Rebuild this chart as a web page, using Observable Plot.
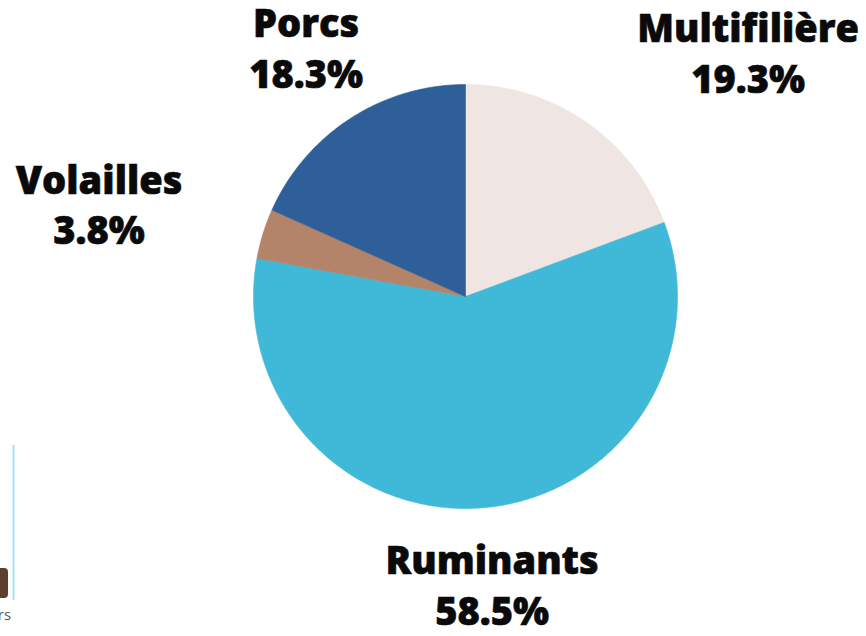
<!DOCTYPE html>
<html>
<head>
<meta charset="utf-8">
<script src="https://cdn.jsdelivr.net/npm/d3@7"></script>
<script src="https://cdn.jsdelivr.net/npm/@observablehq/plot@0.6"></script>
<style>
  html, body { margin: 0; padding: 0; background: #ffffff; }
  #chart { width: 866px; height: 636px; overflow: hidden; }
  #chart svg { display: block; }
</style>
</head>
<body>
<div id="chart"></div>
<script>
// ---- data ----
const categories = ["Multifilière", "Ruminants", "Volailles", "Porcs"];
const shares = [19.3, 58.5, 3.8, 18.3];
const sliceColors = ["#efe5e2", "#40b8d7", "#b3836a", "#2e5f99"];
// label nudges (px) relative to the point on the label ring
const labelNudge = {
  "Multifilière": [123, -15],
  "Ruminants": [2, 8],
  "Volailles": [-99, -11],
  "Porcs": [-7, -15]
};

const W = 866, H = 636;
const cx = 465, cy = 296, R = 212, labelR = 280;

const table = categories.map((c, i) => ({name: c, share: shares[i], color: sliceColors[i]}));
const arcs = d3.pie().sort(null).value(d => d.share)(table);

// polygon points for each slice, in pixel offsets from centre (y down)
function slicePoints(a) {
  const pts = [{x: 0, y: 0}];
  const n = Math.max(8, Math.ceil((a.endAngle - a.startAngle) / 0.01));
  for (let k = 0; k <= n; k++) {
    const t = a.startAngle + (a.endAngle - a.startAngle) * k / n;
    pts.push({x: R * Math.sin(t), y: -R * Math.cos(t)});
  }
  pts.push({x: 0, y: 0});
  return pts;
}

const labels = arcs.map(a => {
  const mid = (a.startAngle + a.endAngle) / 2;
  const [ndx, ndy] = labelNudge[a.data.name];
  return {
    x: labelR * Math.sin(mid) + ndx,
    y: -labelR * Math.cos(mid) + ndy,
    text: a.data.name + "\n" + a.data.share.toFixed(1) + "%"
  };
});

const plot = Plot.plot({
  width: W,
  height: H,
  margin: 0,
  x: {domain: [-cx, W - cx], range: [0, W], axis: null},
  y: {domain: [-cy, H - cy], range: [0, H], axis: null},
  style: {background: "#ffffff"},
  marks: [
    ...arcs.map(a => Plot.line(slicePoints(a), {
      x: "x", y: "y", fill: a.data.color, stroke: a.data.color, strokeWidth: 0.6, curve: "linear"
    })),
    Plot.text(labels, {
      x: "x", y: "y", text: "text",
      fontFamily: "'Open Sans', 'Noto Sans', sans-serif",
      fontWeight: 800,
      fontSize: 38,
      lineHeight: 1.34,
      fill: "#0a0a0a",
      stroke: "#0a0a0a",
      strokeWidth: 0.6,
      textAnchor: "middle"
    }),
    // cropped fragments at the lower-left edge of the source image
    Plot.ruleX([13 - cx], {y1: 445 - cy, y2: 600 - cy, stroke: "#8fdcef", strokeWidth: 2, strokeOpacity: 0.8}),
    Plot.rect([{x1: -cx - 4, x2: 8 - cx, y1: 568 - cy, y2: 598 - cy}], {x1: "x1", x2: "x2", y1: "y1", y2: "y2", fill: "#5e3e2f", rx: 4}),
    Plot.text(["rs"], {x: 4 - cx, y: 615 - cy, fontSize: 15, fill: "#555555", fontFamily: "'Open Sans', sans-serif", textAnchor: "middle"})
  ]
});

document.getElementById("chart").appendChild(plot);
</script>
</body>
</html>
